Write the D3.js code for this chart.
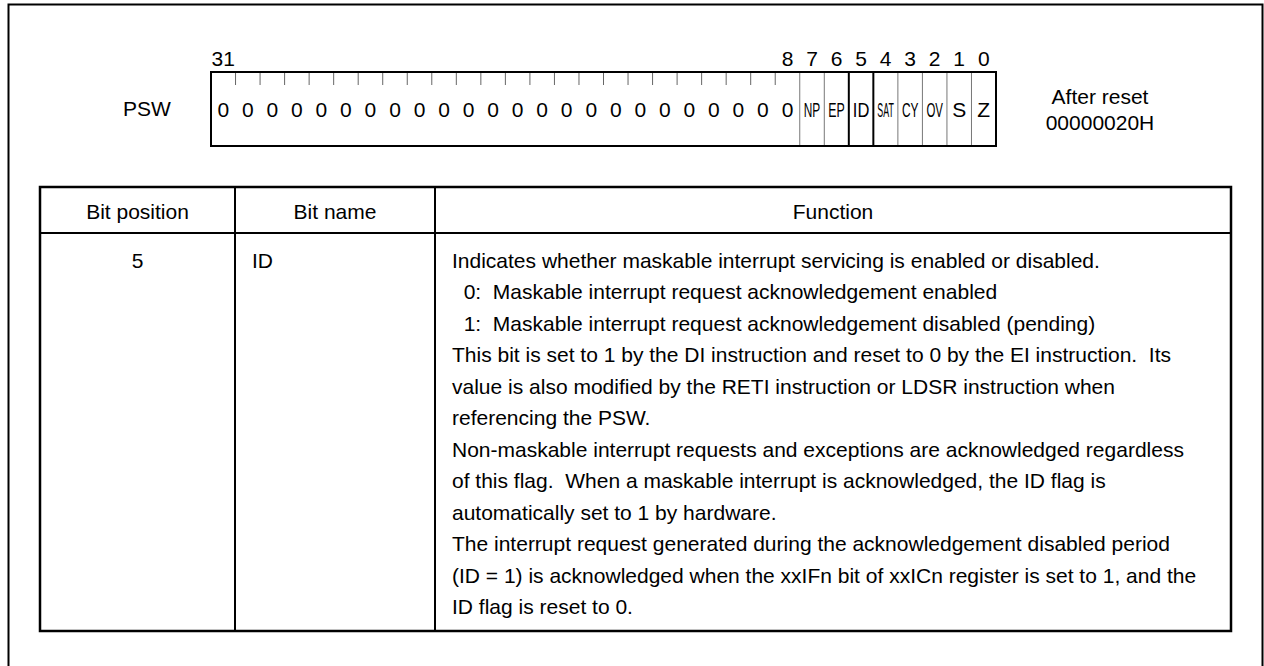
<!DOCTYPE html>
<html>
<head>
<meta charset="utf-8">
<script src="https://cdn.jsdelivr.net/npm/d3@7"></script>
<style>
  body { margin: 0; background: #fff; }
  svg text { font-family: "Liberation Sans", Arial, Helvetica, sans-serif; fill: #000; white-space: pre; }
</style>
</head>
<body>
<svg id="chart" width="1264" height="666"></svg>
<script>
// ---- data ----
const registerName = "PSW";
const bitIndices = d3.range(31, -1, -1);               // 31 .. 0
const bitLabels = [
  "0","0","0","0","0","0","0","0","0","0","0","0",
  "0","0","0","0","0","0","0","0","0","0","0","0",
  "NP","EP","ID","SAT","CY","OV","S","Z"
];                                                      // bits 31 .. 0
const bitNumbersShown = [31, 8, 7, 6, 5, 4, 3, 2, 1, 0];
const fullDividerBits = [7, 6, 5, 4, 3, 2, 1, 0];      // a full line on the left side of these bits
const thickDividerBits = [5, 4];                        // thick line on the left of these bits
const resetLabel = ["After reset", "00000020H"];
const tableHeaders = ["Bit position", "Bit name", "Function"];
const rowBitPosition = "5";
const rowBitName = "ID";
const functionLines = [
  "Indicates whether maskable interrupt servicing is enabled or disabled.",
  "  0:  Maskable interrupt request acknowledgement enabled",
  "  1:  Maskable interrupt request acknowledgement disabled (pending)",
  "This bit is set to 1 by the DI instruction and reset to 0 by the EI instruction.  Its",
  "value is also modified by the RETI instruction or LDSR instruction when",
  "referencing the PSW.",
  "Non-maskable interrupt requests and exceptions are acknowledged regardless",
  "of this flag.  When a maskable interrupt is acknowledged, the ID flag is",
  "automatically set to 1 by hardware.",
  "The interrupt request generated during the acknowledgement disabled period",
  "(ID = 1) is acknowledged when the xxIFn bit of xxICn register is set to 1, and the",
  "ID flag is reset to 0."
];

// ---- layout ----
const svg = d3.select("#chart");
const FS = 21;
const base = c => c + FS * 0.358;   // baseline for visually centred text

// outer frame
svg.append("rect").attr("x", 8.5).attr("y", 4.5).attr("width", 1254).attr("height", 700)
  .attr("fill", "none").attr("stroke", "#000").attr("stroke-width", 2);

// register
const boxTop = 72, boxBottom = 146;
const x = d3.scaleBand().domain(bitIndices).range([211, 996]).padding(0);
const bw = x.bandwidth();

svg.append("text").attr("x", 147).attr("y", base(108)).attr("text-anchor", "middle")
  .attr("font-size", FS).text(registerName);

// bit numbers
svg.selectAll("text.bitnum").data(bitNumbersShown).enter().append("text")
  .attr("class", "bitnum")
  .attr("x", d => x(d) + bw / 2).attr("y", base(58))
  .attr("text-anchor", "middle").attr("font-size", FS).text(d => d);

// ticks between bits 31..8
const tickBits = bitIndices.filter(b => b < 31 && !fullDividerBits.includes(b));
svg.selectAll("line.tick").data(tickBits).enter().append("line")
  .attr("x1", d => x(d)).attr("x2", d => x(d))
  .attr("y1", boxTop).attr("y2", 85)
  .attr("stroke", "#666").attr("stroke-width", 1);

// full dividers
svg.selectAll("line.div").data(fullDividerBits).enter().append("line")
  .attr("x1", d => x(d)).attr("x2", d => x(d))
  .attr("y1", boxTop).attr("y2", boxBottom)
  .attr("stroke", d => thickDividerBits.includes(d) ? "#000" : "#777")
  .attr("stroke-width", d => thickDividerBits.includes(d) ? 2 : 1);

// box
svg.append("rect").attr("x", 211).attr("y", boxTop).attr("width", 996 - 211).attr("height", boxBottom - boxTop)
  .attr("fill", "none").attr("stroke", "#000").attr("stroke-width", 2);

// bit labels (multi-letter names are condensed horizontally to fit their cell, as in the original)
const labelSel = svg.selectAll("text.bitlab").data(bitIndices).enter().append("text")
  .attr("class", "bitlab")
  .attr("text-anchor", "middle").attr("font-size", FS)
  .attr("x", 0).attr("y", 0)
  .text((d, i) => bitLabels[i]);
labelSel.each(function (d, i) {
  const len = this.getComputedTextLength();
  const s = bitLabels[i].length > 1 ? Math.min(1, (bw - 8) / len) : 1;
  d3.select(this).attr("transform",
    `translate(${x(d) + bw / 2},${base(109)}) scale(${s},1)`);
});

// after reset
svg.selectAll("text.reset").data(resetLabel).enter().append("text")
  .attr("x", 1100).attr("y", (d, i) => base(96 + i * 26))
  .attr("text-anchor", "middle").attr("font-size", FS).text(d => d);

// ---- table ----
const colX = [40, 235, 435, 1231];
const tTop = 187, tHead = 233, tBottom = 631;

svg.append("rect").attr("x", colX[0]).attr("y", tTop).attr("width", colX[3] - colX[0]).attr("height", tBottom - tTop)
  .attr("fill", "none").attr("stroke", "#000").attr("stroke-width", 2.5);
svg.append("line").attr("x1", colX[0]).attr("x2", colX[3]).attr("y1", tHead).attr("y2", tHead)
  .attr("stroke", "#000").attr("stroke-width", 2);
svg.selectAll("line.col").data([colX[1], colX[2]]).enter().append("line")
  .attr("x1", d => d).attr("x2", d => d).attr("y1", tTop).attr("y2", tBottom)
  .attr("stroke", "#000").attr("stroke-width", 2);

svg.selectAll("text.head").data(tableHeaders).enter().append("text")
  .attr("x", (d, i) => (colX[i] + colX[i + 1]) / 2).attr("y", base(211))
  .attr("text-anchor", "middle").attr("font-size", FS).text(d => d);

const lineY0 = 260, lineStep = 31.5;
svg.append("text").attr("x", (colX[0] + colX[1]) / 2).attr("y", base(lineY0))
  .attr("text-anchor", "middle").attr("font-size", FS).text(rowBitPosition);
svg.append("text").attr("x", 252).attr("y", base(lineY0))
  .attr("font-size", FS).text(rowBitName);

svg.selectAll("text.fn").data(functionLines).enter().append("text")
  .attr("x", 452).attr("y", (d, i) => base(lineY0 + i * lineStep))
  .attr("font-size", FS).text(d => d);
</script>
</body>
</html>
